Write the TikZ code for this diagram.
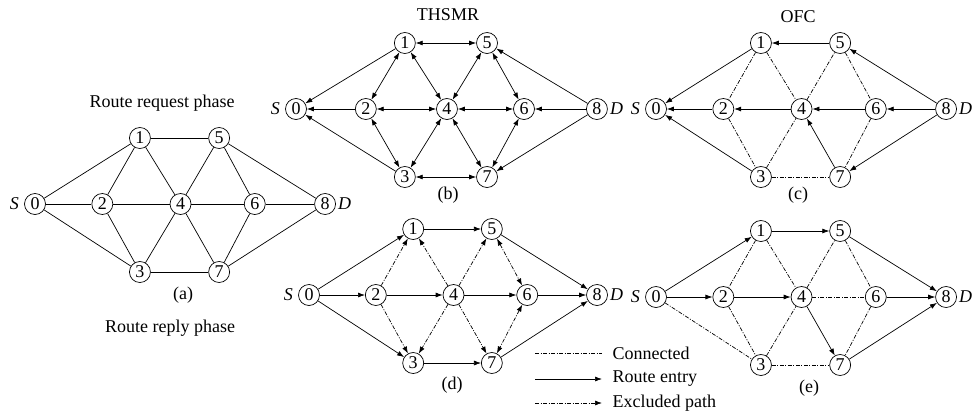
\documentclass[tikz,border=0pt]{standalone}
\usepackage{fontspec}
\setmainfont{Liberation Serif}
\usetikzlibrary{arrows.meta,positioning}

\tikzset{
  vtx/.style={circle,draw,line width=0.7pt,inner sep=0pt,minimum size=21pt,
    font=\fontsize{18}{18}\selectfont},
  link/.style={line width=0.7pt},
  conn/.style={line width=0.7pt,dash pattern=on 4pt off 1.5pt on 1pt off 1.5pt},
  lbl/.style={font=\fontsize{18}{18}\selectfont},
  endlbl/.style={font=\fontsize{18}{18}\selectfont\itshape,inner sep=1pt},
}
% nine nodes of one network, #1 = name prefix
\newcommand{\netnodes}[1]{%
  \foreach \n/\x/\y in {0/0/0,1/106/-66,2/68/0,3/106/68,4/147/0,
                        5/186/-66,6/222/0,7/186/68,8/293/0}
    \node[vtx] (#1\n) at (\x,\y) {\n};
  \node[endlbl,left=4pt of #10] (#1S) {S};
  \node[endlbl,right=1pt of #18] (#1D) {D};
}

\begin{document}
\begin{tikzpicture}[x=1pt,y=-1pt,>={Latex[length=7pt,width=5pt]}]
  \useasboundingbox (0,0) rectangle (976,418);

  % (a) route request phase
  \begin{scope}[shift={(35,204)},xscale=0.99]
    \netnodes{a}
  \end{scope}
  \foreach \u/\v in {0/1,0/2,0/3,1/5,1/2,1/4,2/4,2/3,3/4,3/7,4/5,4/6,4/7,
                     5/6,5/8,6/8,6/7,7/8}
    \draw[link] (a\u) -- (a\v);
  \node[lbl] (reqtitle) at (162,103) {Route request phase};
  \node[lbl] (acap) at (183,295) {(a)};
  \node[lbl] (reptitle) at (170,328) {Route reply phase};

  % (b) THSMR
  \begin{scope}[shift={(296,109)},xscale=1.027]
    \netnodes{b}
  \end{scope}
  \foreach \u/\v in {1/0,2/0,3/0,8/5,8/6,8/7}
    \draw[link,->] (b\u) -- (b\v);
  \foreach \u/\v in {1/5,1/2,1/4,2/4,2/3,3/4,3/7,4/5,4/6,4/7,5/6,6/7}
    \draw[link,<->] (b\u) -- (b\v);
  \node[lbl] (btitle) at (448,15) {THSMR};
  \node[lbl] (bcap) at (448,195) {(b)};

  % (c) OFC
  \begin{scope}[shift={(656,109)},xscale=0.99]
    \netnodes{c}
  \end{scope}
  \foreach \u/\v in {1/0,2/0,3/0,5/1,4/2,6/4,7/4,8/5,8/6,8/7}
    \draw[link,->] (c\u) -- (c\v);
  \foreach \u/\v in {1/2,1/4,2/3,3/4,4/5,5/6,6/7,3/7}
    \draw[conn] (c\u) -- (c\v);
  \node[lbl] (ctitle) at (798,17) {OFC};
  \node[lbl] (ccap) at (798,195) {(c)};

  % (d)
  \begin{scope}[shift={(309,295)},xscale=0.983]
    \netnodes{d}
  \end{scope}
  \foreach \u/\v in {0/1,0/2,0/3,1/5,2/4,3/7,4/6,6/8,5/8,7/8}
    \draw[link,->] (d\u) -- (d\v);
  \foreach \u/\v in {2/1,4/1,2/3,4/3,4/5,4/7}
    \draw[conn,->] (d\u) -- (d\v);
  \foreach \u/\v in {5/6,6/7}
    \draw[conn,<->] (d\u) -- (d\v);
  \node[lbl] (dcap) at (452,385) {(d)};

  % (e)
  \begin{scope}[shift={(656,297)},xscale=0.99]
    \netnodes{e}
  \end{scope}
  \foreach \u/\v in {0/1,0/2,1/5,2/4,5/8,6/8,7/8,4/7}
    \draw[link,->] (e\u) -- (e\v);
  \foreach \u/\v in {0/3,1/2,1/4,2/3,3/4,4/5,5/6,6/7,3/7,4/6}
    \draw[conn] (e\u) -- (e\v);
  \node[lbl] (ecap) at (809,388) {(e)};

  % legend
  \coordinate (l1a) at (535,353); \coordinate (l1b) at (602,353);
  \coordinate (l2a) at (535,379); \coordinate (l2b) at (602,379);
  \coordinate (l3a) at (535,403); \coordinate (l3b) at (602,403);
  \draw[conn] (l1a) -- (l1b);
  \draw[link,->] (l2a) -- (l2b);
  \draw[conn,->] (l3a) -- (l3b);
  \node[lbl,right=7pt of l1b] (lconn) {Connected};
  \node[lbl,right=7pt of l2b] (lentry) {Route entry};
  \node[lbl,right=7pt of l3b] (lexcl) {Excluded path};
\end{tikzpicture}
\end{document}
